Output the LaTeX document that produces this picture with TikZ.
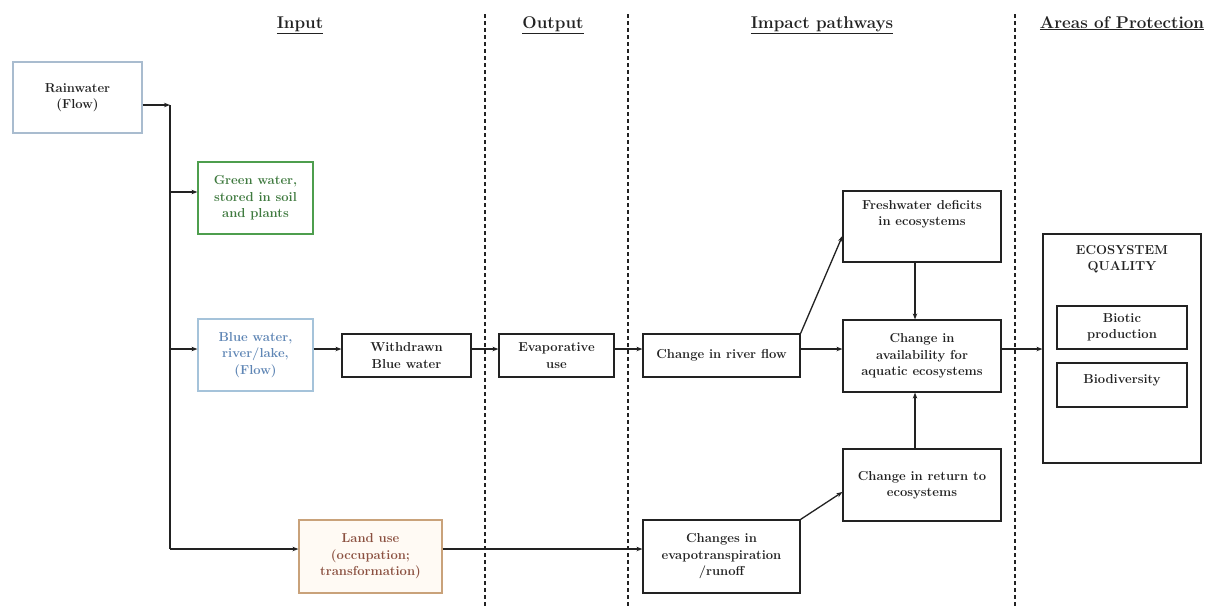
\documentclass[tikz,border=0pt]{standalone}
\usepackage{fontspec}
\usetikzlibrary{arrows.meta}
\definecolor{rainc}{HTML}{A9BCCF}
\definecolor{greenc}{HTML}{4E9E4E}
\definecolor{greent}{HTML}{3F7A3F}
\definecolor{bluec}{HTML}{A5C3DA}
\definecolor{bluet}{HTML}{5F86B5}
\definecolor{landc}{HTML}{C9A27A}
\definecolor{landf}{HTML}{FFFAF4}
\definecolor{landt}{HTML}{8B5040}
\definecolor{inkc}{HTML}{222222}
\begin{document}
\begin{tikzpicture}[x=1pt,y=-1pt,
  box/.style={draw=inkc, line width=1.2pt, fill=white, inner sep=0pt, align=center,
    font=\fontsize{13}{16.5}\selectfont\bfseries, text=inkc},
  conn/.style={line width=1.3pt, draw=inkc},
  arr/.style={conn, -{Stealth[length=6pt,width=4.5pt]}},
  divider/.style={line width=1.3pt, draw=inkc, dash pattern=on 4pt off 3pt},
  header/.style={font=\fontsize{17}{20}\selectfont\bfseries, text=inkc, anchor=base, inner sep=0pt}
]
\useasboundingbox (0,0) rectangle (1214,606);
\fill[white] (0,0) rectangle (1214,606);

% column dividers
\coordinate (d1t) at (485,14); \coordinate (d1b) at (485,606);
\coordinate (d2t) at (628,14); \coordinate (d2b) at (628,606);
\coordinate (d3t) at (1015,14); \coordinate (d3b) at (1015,606);
\draw[divider] (d1t) -- (d1b);
\draw[divider] (d2t) -- (d2b);
\draw[divider] (d3t) -- (d3b);

% headers
\node[header] (hin) at (300,28) {\underline{Input}};
\node[header] (hout) at (553,28) {\underline{Output}};
\node[header] (himp) at (822,28) {\underline{Impact pathways}};
\node[header] (hap) at (1122,28) {\underline{Areas of Protection}};

% boxes
\node[box, draw=rainc, minimum width=129pt, minimum height=71pt] (rain) at (77.5,97.5) {Rainwater\\(Flow)};
\node[box, draw=greenc, text=greent, minimum width=115pt, minimum height=72pt] (green) at (255.5,198) {Green water,\\stored in soil\\and plants};
\node[box, draw=bluec, text=bluet, minimum width=115pt, minimum height=72pt] (blue) at (255.5,355) {Blue water,\\river/lake,\\(Flow)};
\node[box, minimum width=129pt, minimum height=43pt] (withd) at (406.5,355.5) {Withdrawn\\Blue water};
\node[box, minimum width=115pt, minimum height=43pt] (evap) at (556.5,355.5) {Evaporative\\use};
\node[box, draw=landc, fill=landf, text=landt, minimum width=143pt, minimum height=73pt] (land) at (370.5,556.5) {Land use\\(occupation;\\transformation)};
\node[box, minimum width=157pt, minimum height=43pt] (river) at (721.5,355.5) {Change in river flow};
\node[box, minimum width=157pt, minimum height=73pt] (evapot) at (721.5,556.5) {Changes in\\evapotranspiration\\/runoff};
\node[box, minimum width=158pt, minimum height=71pt] (fresh) at (922,226.5) {\parbox[c][71pt][t]{150pt}{\centering\vspace*{9pt}Freshwater deficits\\in ecosystems}};
\node[box, minimum width=158pt, minimum height=72pt] (avail) at (922,356) {Change in\\availability for\\aquatic ecosystems};
\node[box, minimum width=158pt, minimum height=72pt] (ret) at (922,485) {Change in return to\\ecosystems};
\node[box, minimum width=158pt, minimum height=229pt] (eco) at (1122,348.5) {\parbox[c][229pt][t]{150pt}{\centering\vspace*{11pt}ECOSYSTEM\\QUALITY}};
\node[box, minimum width=130pt, minimum height=43pt] (biotic) at (1122,327.5) {Biotic\\production};
\node[box, minimum width=130pt, minimum height=44pt] (biodiv) at (1122,385) {\parbox[c][44pt][t]{124pt}{\centering\vspace*{11pt}Biodiversity}};

% trunk and branches
\coordinate (t0) at (170,105);
\coordinate (t1) at (170,192);
\coordinate (t2) at (170,349);
\coordinate (t3) at (170,549);
\coordinate (vx) at (915,300);
\coordinate (fy) at (0,236);
\coordinate (ry) at (0,492);
\coordinate (ay) at (0,349);

\draw[arr] (rain.east |- t0) -- (t0);
\draw[conn] (t0) -- (t3);
\draw[arr] (t1) -- (green.west |- t1);
\draw[arr] (t2) -- (blue.west |- t2);
\draw[arr] (t3) -- (land.west |- t3);
\draw[arr] (land.east |- t3) -- (evapot.west |- t3);
\draw[arr] (blue.east |- ay) -- (withd.west |- ay);
\draw[arr] (withd.east |- ay) -- (evap.west |- ay);
\draw[arr] (evap.east |- ay) -- (river.west |- ay);
\draw[arr] (river.east |- ay) -- (avail.west |- ay);
\draw[arr] (avail.east |- ay) -- (eco.west |- ay);
\draw[arr] (river.north east) -- (fresh.west |- fy);
\draw[arr] (evapot.north east) -- (ret.west |- ry);
\draw[arr] (fresh.south -| vx) -- (avail.north -| vx);
\draw[arr] (ret.north -| vx) -- (avail.south -| vx);
\end{tikzpicture}
\end{document}
